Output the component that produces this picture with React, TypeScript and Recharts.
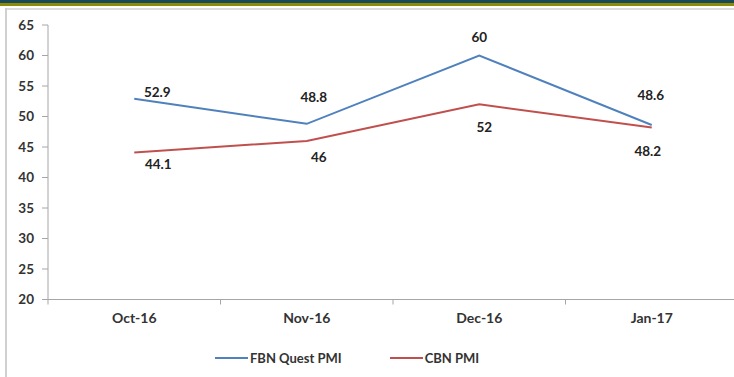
import React from 'react';
import { LineChart, Line, XAxis, YAxis, Legend, LabelList } from 'recharts';

const months = ['Oct-16', 'Nov-16', 'Dec-16', 'Jan-17'];
const fbnQuestPmi = [52.9, 48.8, 60, 48.6];
const cbnPmi = [44.1, 46, 52, 48.2];
const yTicks = [20, 25, 30, 35, 40, 45, 50, 55, 60, 65];

const BLUE = '#4f81bd';
const RED = '#c0504d';
const FONT = 'Lato, "Open Sans", sans-serif';

// label nudges, roughly where Excel left them
const blueLabelShift = [[23, -7], [7, -27], [0, -19], [-1, -30]];
const redLabelShift = [[24, 12], [12, 16], [5, 23], [-4, 24]];

const data = months.map((m, i) => ({ month: m, fbn: fbnQuestPmi[i], cbn: cbnPmi[i] }));

const makeLabel = (shift: number[][]) => (props: any) => {
  const { x, y, value, index } = props;
  const [dx, dy] = shift[index] || [0, 0];
  return (
    <text x={x + dx} y={y + dy} textAnchor="middle" dominantBaseline="central"
      fontFamily={FONT} fontSize={13.5} fontWeight={700} fill="#222">
      {value}
    </text>
  );
};

const CategoryTick = (props: any) => {
  const { x, y, payload, index, visibleTicksCount } = props;
  const half = payload.offset || 0;
  return (
    <g>
      <line x1={x - half} x2={x - half} y1={y - 8} y2={y - 3} stroke="#a6a6a6" />
      {index === visibleTicksCount - 1 && (
        <line x1={x + half} x2={x + half} y1={y - 8} y2={y - 3} stroke="#a6a6a6" />
      )}
      <text x={x} y={y + 15} textAnchor="middle" fontFamily={FONT} fontSize={14}
        fontWeight={700} fill="#333">
        {payload.value}
      </text>
    </g>
  );
};

const LegendBox = () => (
  <div style={{ display: 'flex', alignItems: 'center', fontFamily: FONT, fontSize: 13, fontWeight: 700, color: '#333' }}>
    <span style={{ display: 'inline-block', width: 33, height: 2, background: BLUE, marginRight: 2 }} />
    <span style={{ marginRight: 48 }}>FBN Quest PMI</span>
    <span style={{ display: 'inline-block', width: 33, height: 2, background: RED, marginRight: 2 }} />
    <span>CBN PMI</span>
  </div>
);

export default function App() {
  return (
    <div style={{ position: 'absolute', left: 0, top: 0, width: 734, height: 377, overflow: 'hidden', background: '#fff' }}>
      <div style={{ position: 'absolute', left: 0, top: 0, width: 734, height: 3, background: '#17495a' }} />
      <div style={{ position: 'absolute', left: 0, top: 3, width: 734, height: 3, background: '#8e8a08' }} />
      <div style={{ position: 'absolute', left: 5, top: 8, width: 729, height: 2, background: '#dcdcdc' }} />
      <div style={{ position: 'absolute', left: 5, top: 8, width: 2, height: 369, background: '#d0d0d0' }} />
      <div style={{ position: 'absolute', left: 0, top: 0 }}>
        <LineChart width={740} height={377} data={data} margin={{ top: 25, right: 2, bottom: 37.5, left: 0 }}>
          <YAxis
            domain={[20, 65]}
            ticks={yTicks}
            interval={0}
            width={48}
            tickSize={6}
            tickMargin={8}
            axisLine={{ stroke: '#a6a6a6' }}
            tickLine={{ stroke: '#a6a6a6' }}
            tick={{ fontFamily: FONT, fontSize: 13.5, fontWeight: 700, fill: '#333' }}
          />
          <XAxis
            dataKey="month"
            scale="band"
            height={24}
            axisLine={{ stroke: '#a6a6a6' }}
            tickLine={false}
            tick={<CategoryTick />}
          />
          <Legend content={<LegendBox />} wrapperStyle={{ left: 215, top: 350, width: 320, bottom: 'auto' }} />
          <Line dataKey="fbn" name="FBN Quest PMI" stroke={BLUE} strokeWidth={2} dot={false} isAnimationActive={false}>
            <LabelList dataKey="fbn" content={makeLabel(blueLabelShift)} />
          </Line>
          <Line dataKey="cbn" name="CBN PMI" stroke={RED} strokeWidth={2} dot={false} isAnimationActive={false}>
            <LabelList dataKey="cbn" content={makeLabel(redLabelShift)} />
          </Line>
        </LineChart>
      </div>
    </div>
  );
}
